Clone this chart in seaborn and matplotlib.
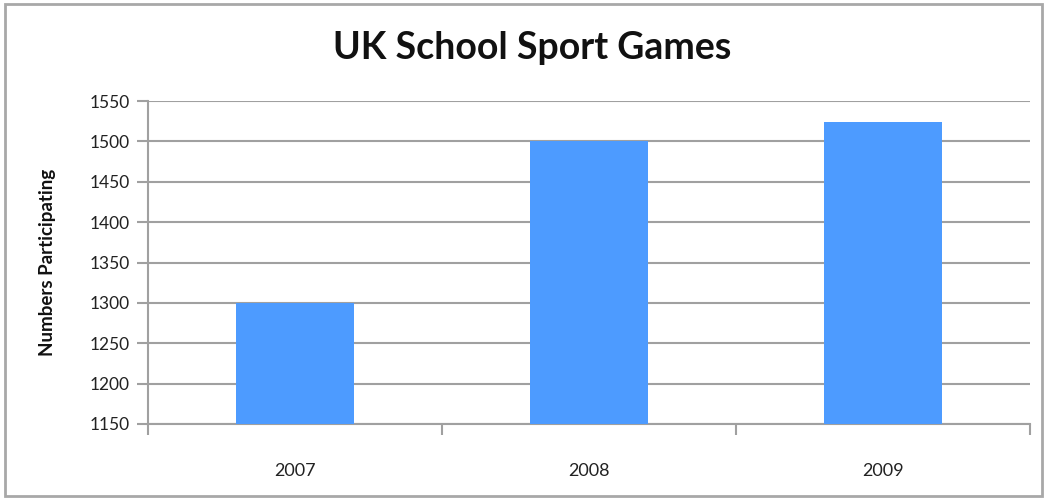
import matplotlib
matplotlib.use("Agg")
import matplotlib.pyplot as plt
import seaborn as sns
import pandas as pd
from matplotlib.patches import Rectangle

years = ["2007", "2008", "2009"]
participants = [1300, 1500, 1524]
yticks = [1150, 1200, 1250, 1300, 1350, 1400, 1450, 1500, 1550]

sns.set_theme(style="white")
plt.rcParams['font.family'] = ['Lato', 'DejaVu Sans']

df = pd.DataFrame({"Year": years, "Participants": participants})

fig = plt.figure(figsize=(10.48, 5.0), dpi=100)
ax = fig.add_axes([148/1048, 1 - 424/500, (1030-148)/1048, (424-101)/500])

grid_c = "#a0a0a0"
sns.barplot(data=df, x="Year", y="Participants", color="#4d9bff", width=0.4,
            saturation=1, linewidth=0, ax=ax, zorder=3)

ax.set_ylim(yticks[0], yticks[-1])
ax.set_yticks(yticks)
ax.set_xlim(-0.5, 2.5)
ax.yaxis.grid(True, color=grid_c, linewidth=1.5, zorder=0)
ax.set_axisbelow(True)

for s in ["top", "right"]:
    ax.spines[s].set_visible(False)
for s in ["left", "bottom"]:
    ax.spines[s].set_color(grid_c)
    ax.spines[s].set_linewidth(1.5)

ax.tick_params(axis="y", which="major", left=True, length=8, width=1.5,
               color=grid_c, labelsize=12.5, pad=5, labelcolor="#222222")
ax.set_xticks([0, 1, 2])
ax.set_xticklabels(years)
ax.tick_params(axis="x", which="major", bottom=False, labelsize=13, pad=22,
               labelcolor="#222222")
ax.set_xticks([-0.5, 0.5, 1.5, 2.5], minor=True)
ax.tick_params(axis="x", which="minor", bottom=True, length=8, width=1.5,
               color=grid_c)

ax.set_xlabel("")
ax.set_ylabel("Numbers Participating", fontsize=13.5, fontweight="bold",
              color="#111111")
ax.yaxis.label.set_va("center")
ax.yaxis.set_label_coords(-100/882, 0.5)

fig.text(532/1048, 1 - 48/500, "UK School Sport Games", ha="center", va="center",
         fontsize=27, fontweight="bold", color="#111111")

fig.patches.append(Rectangle((5/1048, 4/500), 1037/1048, 492/500,
                             transform=fig.transFigure, fill=False,
                             edgecolor="#a8a8a8", linewidth=2))

fig.savefig("out.png", dpi=100)
